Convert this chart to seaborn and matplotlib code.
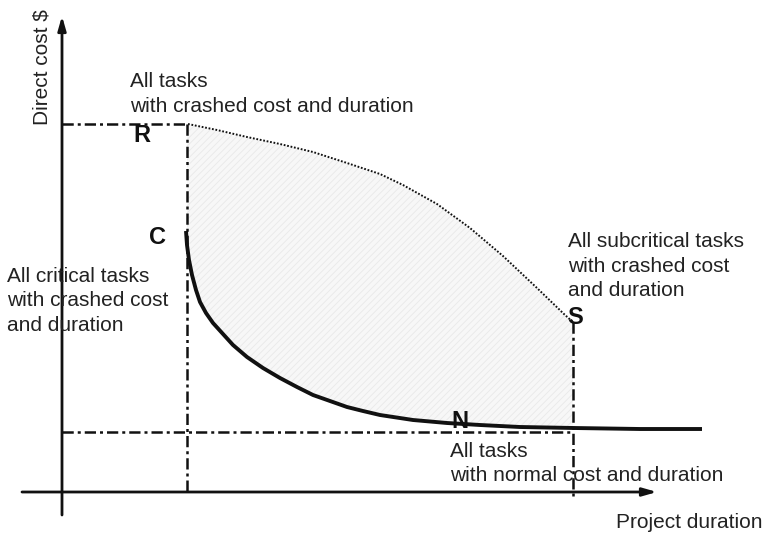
import numpy as np
import pandas as pd
import matplotlib
matplotlib.use("Agg")
import matplotlib.pyplot as plt
import seaborn as sns

# Time-cost trade-off: project duration vs. direct cost (arbitrary units)
crit_duration = [12.4, 12.5, 12.7, 13.0, 13.4, 13.8, 14.4, 15.1, 17.1, 18.5, 20.1, 21.8, 23.5,
                 25.1, 26.8, 28.5, 30.1, 31.8, 35.1, 38.5, 41.8, 45.8, 51.2, 57.8, 64.0]
crit_cost = [26.1, 24.7, 23.2, 21.7, 20.2, 19.0, 17.9, 16.9, 14.7, 13.5, 12.4, 11.4, 10.5,
             9.7, 9.1, 8.5, 8.1, 7.7, 7.2, 6.9, 6.7, 6.5, 6.4, 6.3, 6.3]

sub_duration = [12.6, 15.5, 18.5, 21.8, 25.1, 28.5, 31.8, 34.1, 37.5, 40.8, 44.1, 47.5, 50.3, 51.1]
sub_cost = [36.8, 36.2, 35.5, 34.8, 34.0, 32.9, 31.8, 30.7, 28.8, 26.4, 23.6, 20.4, 17.7, 17.0]

# Named points: (duration, cost)
point_R = (12.5, 36.8)
point_S = (51.1, 17.0)
normal_cost = 6.0

sns.set_theme(style="white")
plt.rcParams["font.family"] = ["Liberation Sans", "DejaVu Sans"]
plt.rcParams["hatch.linewidth"] = 0.6

fig = plt.figure(figsize=(7.67, 5.36), dpi=100)
ax = fig.add_axes([0, 0, 1, 1])

ink = "#111111"

# Shaded region between the two boundaries
grid = np.linspace(point_R[0], point_S[0], 400)
upper = np.interp(grid, sub_duration, sub_cost)
lower = np.interp(grid, crit_duration, crit_cost)
lower = np.minimum(lower, upper)
ax.fill_between(grid, lower, upper, facecolor="#f7f7f7", edgecolor="#e9e9e9",
                hatch="/////", linewidth=0, zorder=1)

# Axes with arrow heads
arrow = dict(arrowstyle="-|>,head_length=0.7,head_width=0.2", color=ink, lw=2.0,
             shrinkA=0, shrinkB=0)
ax.annotate("", xy=(59.5, 0), xytext=(-4.0, 0), arrowprops=arrow, zorder=3)
ax.annotate("", xy=(0, 47.6), xytext=(0, -2.3), arrowprops=arrow, zorder=3)

# Reference dash-dot lines
dd = dict(color=ink, lw=1.8, dashes=(4.5, 1.6, 1.2, 1.6), zorder=2)
ax.plot([0, point_R[0]], [point_R[1], point_R[1]], **dd)
ax.plot([point_R[0], point_R[0]], [point_R[1], 0], **dd)
ax.plot([point_S[0], point_S[0]], [point_S[1], -0.6], **dd)
ax.plot([0, point_S[0]], [normal_cost, normal_cost], **dd)

# Boundary curves
crit = pd.DataFrame({"duration": crit_duration, "cost": crit_cost})
sub = pd.DataFrame({"duration": sub_duration, "cost": sub_cost})
sns.lineplot(data=crit, x="duration", y="cost", ax=ax, color=ink, lw=2.8,
             sort=False, zorder=4, solid_capstyle="butt")
sns.lineplot(data=sub, x="duration", y="cost", ax=ax, color=ink, lw=1.4,
             linestyle=(0, (0.9, 0.9)), sort=False, zorder=4)

ax.set_xlim(-6.2, 70.5)
ax.set_ylim(-4.4, 49.2)
ax.axis("off")

# Point labels
bold = dict(fontsize=17, fontweight="bold", color=ink, ha="center", va="center", zorder=5)
ax.text(8.0, 35.6, "R", **bold)
ax.text(9.6, 25.5, "C", **bold)
ax.text(51.3, 17.5, "S", **bold)
ax.text(39.8, 7.1, "N", **bold)

# Annotations
txt = dict(fontsize=15, color="#222222", linespacing=1.36, va="center", zorder=5)
ax.text(6.8, 39.8, "All tasks\nwith crashed cost and duration", ha="left", **txt)
ax.text(-5.5, 19.1, "All critical tasks\nwith crashed cost\nand duration", ha="left", **txt)
ax.text(50.6, 22.6, "All subcritical tasks\nwith crashed cost\nand duration", ha="left", **txt)
ax.text(38.8, 2.85, "All tasks\nwith normal cost and duration", ha="left", **txt)
ax.text(70.1, -3.0, "Project duration", ha="right", **txt)
ax.text(-2.0, 42.5, "Direct cost $", ha="center", rotation=90, **txt)

fig.savefig("out.png", dpi=100)
